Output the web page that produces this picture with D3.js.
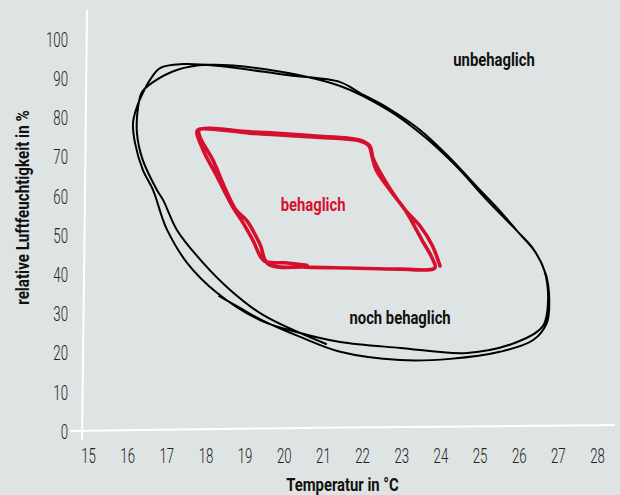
<!DOCTYPE html>
<meta charset="utf-8">
<style>

body {
  margin: 0;
  background: #dee3e3;
}

svg {
  display: block;
}

.axis text {
  font-family: Roboto, sans-serif;
  font-weight: 300;
  font-size: 20px;
  fill: #222;
}

.title {
  font-family: Roboto, sans-serif;
  font-weight: 700;
  font-size: 19px;
  fill: #111;
}

.zone {
  fill: none;
  stroke-linecap: round;
  stroke-linejoin: round;
}

</style>
<svg width="620" height="495"></svg>
<script src="https://cdn.jsdelivr.net/npm/d3@7/dist/d3.min.js"></script>
<script>

// tick labels
var tempTicks = [15, 16, 17, 18, 19, 20, 21, 22, 23, 24, 25, 26, 27, 28];
var humTicks = [0, 10, 20, 30, 40, 50, 60, 70, 80, 90, 100];

// hand drawn outline "noch behaglich" (temperature, rel. humidity), traced twice
var outerZone = [
  [18.35, 34.4], [18.88, 31.4], [19.44, 28.3], [20.42, 24.0], [21.44, 20.2],
  [22.97, 18.1], [24.25, 18.4], [25.52, 20.2], [26.37, 23.2], [26.72, 27.6],
  [26.78, 33.4], [26.70, 39.8], [26.42, 45.7], [25.98, 50.8], [25.45, 56.9],
  [25.01, 61.5], [24.25, 69.6], [23.48, 76.8], [22.66, 82.4], [21.95, 86.2],
  [21.44, 89.0], [20.08, 90.8], [18.37, 93.1], [17.43, 93.6], [16.84, 92.6],
  [16.58, 89.5], [16.40, 86.2], [16.25, 82.7], [16.15, 78.6], [16.20, 73.5],
  [16.40, 66.6], [16.66, 61.5], [16.89, 54.6], [17.02, 51.3], [17.53, 42.9],
  [18.30, 35.2], [19.39, 28.3], [20.42, 25.0], [21.44, 22.7], [22.97, 21.2],
  [24.68, 19.9], [25.96, 22.7], [26.62, 26.8], [26.75, 33.4], [26.65, 41.1],
  [26.34, 46.9], [25.98, 50.8], [25.19, 58.9], [24.37, 67.9], [23.48, 76.0],
  [22.66, 81.9], [21.44, 88.0], [19.65, 92.1], [18.04, 93.4], [17.27, 92.1],
  [16.66, 89.0], [16.38, 86.5], [16.28, 82.7], [16.25, 76.0], [16.40, 69.1],
  [16.76, 61.5], [16.92, 58.9], [17.27, 51.3], [17.94, 42.9], [18.63, 36.0],
  [19.47, 29.6], [21.08, 22.2]
];

// hand drawn outline "behaglich"
var innerZone = [
  [20.59, 42.3], [20.03, 42.9], [19.50, 43.4], [19.21, 48.7], [18.96, 53.1],
  [18.70, 57.1], [18.30, 64.8], [17.94, 71.7], [17.78, 76.3], [17.84, 77.0],
  [19.14, 76.0], [20.75, 75.0], [21.95, 74.0], [22.18, 72.7], [22.25, 70.2],
  [22.36, 66.6], [22.71, 61.5], [23.10, 56.4], [23.28, 53.3], [23.53, 48.7],
  [23.79, 44.1], [23.86, 41.6], [22.97, 41.3], [21.69, 41.6], [20.59, 41.8],
  [19.60, 42.6], [19.39, 47.7], [19.06, 53.6], [18.78, 56.4], [18.52, 61.5],
  [18.19, 69.1], [17.86, 75.0], [17.84, 76.8], [19.14, 76.3], [20.75, 75.3],
  [21.95, 74.2], [22.20, 72.7], [22.28, 69.6], [22.61, 63.5], [23.10, 56.4],
  [23.48, 52.3], [23.79, 47.4], [23.99, 42.1]
];

var zoneNames = ["unbehaglich", "behaglich", "noch behaglich"];
var zoneLabelAt = [[25.37, 94.9], [20.75, 57.9], [22.97, 29.1]];
var zoneColors = ["#111", "#d5102f", "#111"];

var svg = d3.select("svg"),
    x = d3.scaleLinear().domain([15, 28]).range([88, 597]),
    y = d3.scaleLinear().domain([0, 100]).range([431, 39]);

var line = d3.line()
    .curve(d3.curveCatmullRom.alpha(0.5))
    .x(function(d) { return x(d[0]); })
    .y(function(d) { return y(d[1]); });

// sketchy white axis lines
svg.append("path")
    .attr("d", d3.line().curve(d3.curveBasis)([[x(15) - 1, 10], [x(15) - 3, 200], [x(15) - 6, y(0) + 9]]))
    .attr("fill", "none")
    .attr("stroke", "#fff")
    .attr("stroke-width", 2);

svg.append("path")
    .attr("d", d3.line().curve(d3.curveBasis)([[70, y(0)], [x(20), y(0) - 3], [x(26), y(0) - 5], [615, y(0) - 6]]))
    .attr("fill", "none")
    .attr("stroke", "#fff")
    .attr("stroke-width", 2);

var xAxis = svg.append("g")
    .attr("class", "axis")
    .attr("transform", "translate(0," + y(0) + ")")
    .call(d3.axisBottom(x).tickValues(tempTicks).tickSize(0).tickPadding(0));
xAxis.select(".domain").remove();
xAxis.selectAll("text")
    .attr("y", 32)
    .attr("dy", null)
    .attr("transform", "scale(0.66,1)");

var yAxis = svg.append("g")
    .attr("class", "axis")
    .attr("transform", "translate(68,0)")
    .call(d3.axisLeft(y).tickValues(humTicks).tickSize(0).tickPadding(0));
yAxis.select(".domain").remove();
yAxis.selectAll("text")
    .attr("x", 0)
    .attr("dy", "0.36em")
    .attr("transform", "scale(0.66,1)");

svg.append("path")
    .datum(outerZone)
    .attr("class", "zone")
    .attr("d", line)
    .attr("stroke", "#000")
    .attr("stroke-width", 2);

svg.append("path")
    .datum(innerZone)
    .attr("class", "zone")
    .attr("d", line)
    .attr("stroke", "#d5102f")
    .attr("stroke-width", 3.6);

svg.selectAll(".zone-label")
    .data(zoneNames)
  .enter().append("text")
    .attr("class", "title zone-label")
    .attr("text-anchor", "middle")
    .attr("dy", "0.36em")
    .attr("transform", function(d, i) {
      return "translate(" + x(zoneLabelAt[i][0]) + "," + y(zoneLabelAt[i][1]) + ") scale(0.78,1)";
    })
    .style("fill", function(d, i) { return zoneColors[i]; })
    .text(function(d) { return d; });

svg.append("text")
    .attr("class", "title")
    .attr("text-anchor", "middle")
    .attr("transform", "translate(" + (x(15) + x(28)) / 2 + ",491) scale(0.78,1)")
    .text("Temperatur in °C");

svg.append("text")
    .attr("class", "title")
    .attr("text-anchor", "middle")
    .attr("transform", "translate(29," + y(57) + ") rotate(-90) scale(0.8,1)")
    .text("relative Luftfeuchtigkeit in %");

</script>
